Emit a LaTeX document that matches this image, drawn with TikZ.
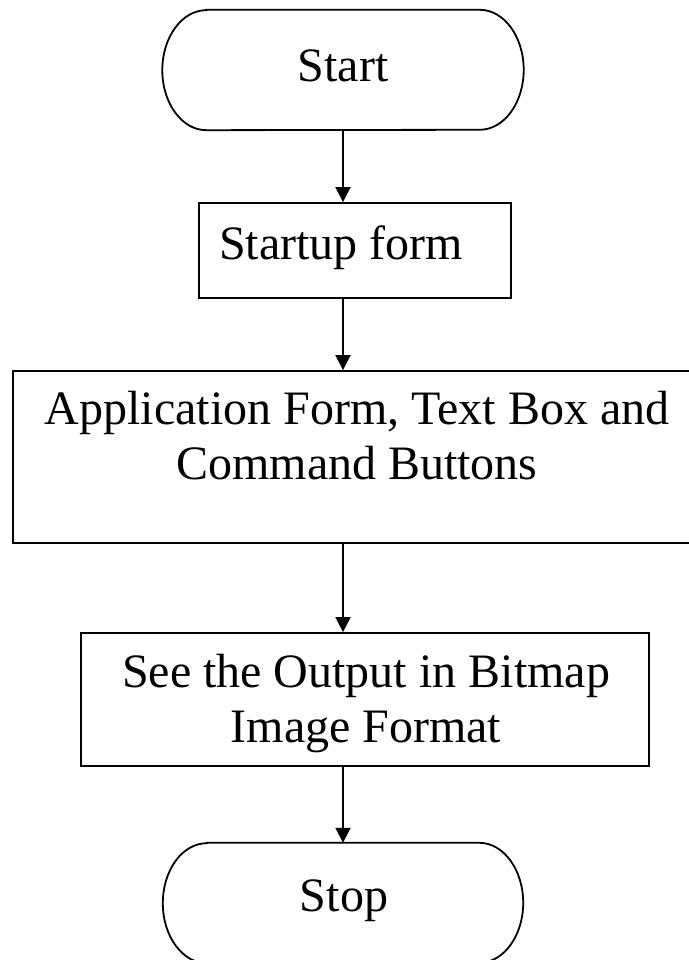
\documentclass[tikz,border=0pt]{standalone}
\usepackage{fontspec}
\setmainfont{Liberation Serif}
\usetikzlibrary{arrows.meta}
\begin{document}
\begin{tikzpicture}[x=1pt,y=1pt,
  frame/.style={draw,line width=1.8pt,inner sep=0pt},
  ghost/.style={inner sep=0pt,draw=none},
  txt/.style={font=\fontsize{48}{55}\selectfont,inner sep=0pt,align=center,anchor=base},
  arr/.style={line width=1.8pt,-{Triangle[length=15pt,width=15pt]}},
  edge/.style={line width=1.8pt}]
\useasboundingbox (0,0) rectangle (688,960);
% terminals (shape holders)
\node[ghost,minimum width=361pt,minimum height=120pt] (st) at (343,890) {};
\node[ghost,minimum width=360pt,minimum height=120pt] (sp) at (343,57) {};
\foreach \n in {st,sp}{
  \draw[edge] ([xshift=44pt]\n.north west) -- ([xshift=-44pt]\n.north east)
    arc[start angle=90,end angle=-90,x radius=44pt,y radius=60pt]
    -- ([xshift=44pt]\n.south west)
    arc[start angle=270,end angle=90,x radius=44pt,y radius=60pt] -- cycle;
}
% process boxes
\node[frame,minimum width=312pt,minimum height=95pt] (b1) at (355,709.5) {};
\node[frame,minimum width=688pt,minimum height=172pt] (b2) at (357,503) {};
\node[frame,minimum width=568pt,minimum height=133pt] (b3) at (365,260.5) {};
% texts
\node[txt] (tst) at (343,878) {Start};
\node[txt] (tb1) at (341,700) {Startup form};
\node[txt] (tb2) at (357,480) {Application Form, Text Box and\\Command Buttons};
\node[txt] (tb3) at (366,217) {See the Output in Bitmap\\Image Format};
\node[txt] (tsp) at (344,48) {Stop};
% connectors
\draw[arr] (st.south) -- (st.south |- b1.north);
\draw[arr] (st.south |- b1.south) -- (st.south |- b2.north);
\draw[arr] (st.south |- b2.south) -- (st.south |- b3.north);
\draw[arr] (st.south |- b3.south) -- (sp.north);
\end{tikzpicture}
\end{document}
